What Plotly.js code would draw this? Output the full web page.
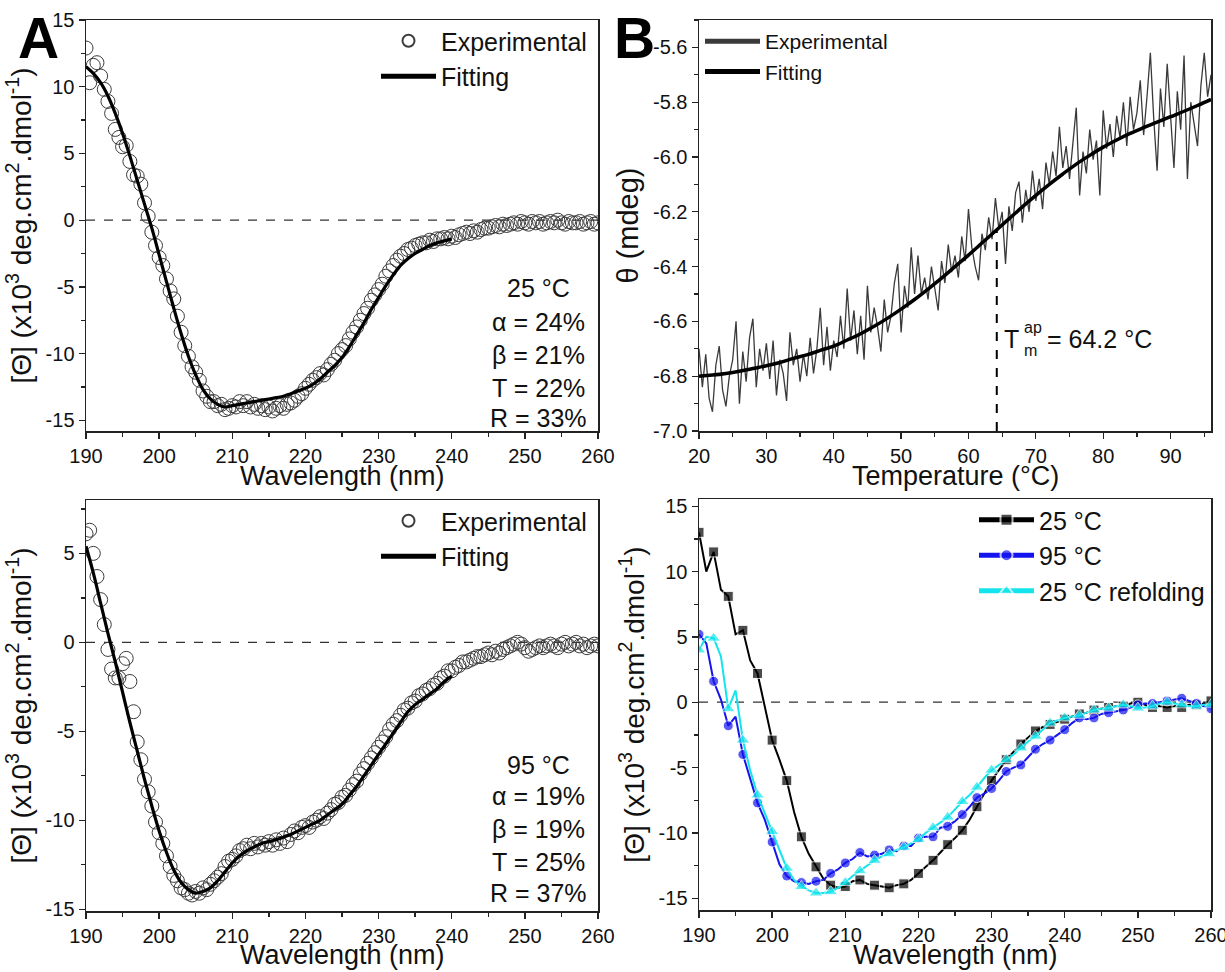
<!DOCTYPE html>
<html><head><meta charset="utf-8">
<script src="https://cdn.plot.ly/plotly-3.0.1.min.js"></script>
<style>body{margin:0;background:#fff;} #chart{width:1225px;height:972px;}</style>
</head><body><div id="chart"></div>
<script>
// ---------- Panel A (top): 25 °C far-UV CD ----------
var expStartA = 190, expStepA = 0.5;
var exp25 = [12.9,10.3,11.6,11.8,10.8,9.8,8.9,8.0,6.8,6.2,5.5,5.6,4.4,3.4,3.3,2.7,1.3,0.3,-0.9,-1.9,
 -2.8,-3.4,-4.4,-5.3,-5.9,-7.2,-8.4,-9.4,-10.2,-11.0,-11.4,-12.0,-12.8,-13.2,-13.6,-13.6,-13.9,-13.8,-14.2,-14.1,
 -13.9,-14.0,-13.6,-13.9,-13.6,-14.0,-13.8,-14.1,-13.9,-14.2,-14.0,-14.3,-14.1,-13.9,-14.1,-13.8,-13.7,-13.5,-13.2,-13.0,
 -12.6,-12.3,-12.0,-11.8,-11.5,-11.6,-11.2,-10.8,-10.5,-10.0,-9.7,-9.4,-8.9,-8.4,-8.0,-7.5,-7.0,-6.6,-6.0,-5.6,
 -5.2,-4.8,-4.2,-3.8,-3.4,-3.0,-2.7,-2.5,-2.2,-2.1,-1.9,-1.8,-1.7,-1.7,-1.5,-1.6,-1.4,-1.4,-1.3,-1.4,
 -1.2,-1.3,-1.1,-1.0,-0.9,-1.0,-0.8,-0.9,-0.7,-0.6,-0.6,-0.5,-0.4,-0.5,-0.3,-0.4,-0.3,-0.2,-0.3,-0.1,
 -0.2,-0.3,-0.1,-0.2,-0.1,-0.3,-0.2,-0.1,-0.2,0.0,-0.2,-0.3,-0.1,-0.2,-0.2,-0.1,-0.3,-0.2,-0.1,-0.3,-0.2];
var fitWlA = [190,191,192,193,194,195,196,197,198,199,200,201,202,203,204,205,206,207,208,209,210,211,212,213,214,215,216,217,218,219,220,221,222,223,224,225,226,227,228,229,230,231,232,233,234,235,236,237,238,239,240];
var fit25 = [11.5,11.0,10.3,9.3,8.0,6.5,4.8,3.0,1.2,-0.6,-2.6,-4.6,-6.6,-8.5,-10.2,-11.6,-12.7,-13.4,-13.8,-14.0,
 -13.9,-13.8,-13.7,-13.6,-13.5,-13.4,-13.3,-13.2,-13.0,-12.8,-12.6,-12.3,-11.9,-11.4,-10.9,-10.3,-9.5,-8.6,-7.7,-6.7,
 -5.8,-4.9,-4.1,-3.4,-2.9,-2.5,-2.2,-1.9,-1.7,-1.55,-1.4];
var textA25 = ["25 °C","α = 24%","β = 21%","T = 22%","R = 33%"];
var textY25 = [-5.1,-7.65,-10.1,-12.6,-14.85];

// ---------- Panel A (bottom): 95 °C far-UV CD ----------
var exp95 = [6.1,6.3,5.0,3.7,2.4,1.0,-0.4,-1.5,-2.0,-2.0,-1.2,-0.9,-2.2,-3.9,-5.6,-6.6,-7.7,-8.4,-9.2,-10.1,
 -10.7,-11.3,-12.0,-12.6,-13.1,-13.4,-13.8,-13.9,-14.1,-14.2,-14.0,-14.1,-13.8,-13.9,-13.6,-13.4,-13.2,-13.0,-12.6,-12.3,
 -12.2,-12.0,-11.7,-11.6,-11.4,-11.6,-11.3,-11.5,-11.3,-11.4,-11.2,-11.4,-11.1,-11.3,-11.0,-11.2,-10.8,-10.6,-10.7,-10.4,
 -10.3,-10.4,-10.1,-10.0,-9.8,-9.9,-9.6,-9.4,-9.1,-9.0,-8.7,-8.6,-8.3,-8.0,-7.8,-7.4,-7.1,-6.8,-6.5,-6.2,
 -5.9,-5.6,-5.3,-4.9,-4.6,-4.4,-4.1,-3.8,-3.7,-3.4,-3.3,-3.0,-2.9,-2.7,-2.6,-2.4,-2.3,-2.0,-1.9,-1.6,
 -1.6,-1.4,-1.3,-1.1,-1.1,-1.0,-0.9,-0.8,-0.8,-0.7,-0.6,-0.7,-0.5,-0.6,-0.4,-0.3,-0.2,-0.1,0.0,-0.1,
 -0.3,-0.5,-0.4,-0.3,-0.2,-0.3,-0.2,-0.1,-0.2,-0.3,-0.1,0.0,-0.2,-0.1,0.0,-0.2,-0.1,-0.3,-0.2,-0.1,-0.2];
var fit95 = [5.4,3.9,2.2,0.5,-1.1,-2.8,-4.5,-6.1,-7.7,-9.2,-10.6,-11.8,-12.8,-13.5,-13.9,-14.1,-14.0,-13.8,-13.4,-12.9,
 -12.4,-12.0,-11.7,-11.5,-11.3,-11.2,-11.1,-10.95,-10.8,-10.6,-10.4,-10.2,-10.0,-9.7,-9.4,-9.1,-8.6,-8.1,-7.5,-6.9,
 -6.3,-5.7,-5.1,-4.5,-3.9,-3.5,-3.2,-2.9,-2.6,-2.2,-1.9];
var textA95 = ["95 °C","α = 19%","β = 19%","T = 25%","R = 37%"];
var textY95 = [-6.9,-8.65,-10.5,-12.36,-14.1];

// ---------- Panel B (top): thermal denaturation ----------
var tempStart = 20, tempStep = 0.5;
var thetaExp = [-6.70,-6.84,-6.72,-6.88,-6.93,-6.76,-6.69,-6.85,-6.91,-6.80,
 -6.74,-6.60,-6.90,-6.71,-6.82,-6.66,-6.59,-6.84,-6.70,-6.78,
 -6.68,-6.81,-6.67,-6.87,-6.74,-6.79,-6.89,-6.64,-6.76,-6.70,
 -6.82,-6.72,-6.80,-6.66,-6.79,-6.70,-6.55,-6.76,-6.62,-6.78,
 -6.67,-6.73,-6.58,-6.70,-6.48,-6.67,-6.56,-6.72,-6.58,-6.74,
 -6.47,-6.64,-6.55,-6.62,-6.71,-6.52,-6.64,-6.58,-6.46,-6.39,
 -6.64,-6.47,-6.55,-6.33,-6.50,-6.36,-6.50,-6.44,-6.52,-6.40,
 -6.48,-6.56,-6.38,-6.46,-6.32,-6.42,-6.36,-6.44,-6.29,-6.38,
 -6.19,-6.33,-6.40,-6.45,-6.28,-6.34,-6.22,-6.30,-6.15,-6.26,
 -6.20,-6.39,-6.18,-6.27,-6.13,-6.09,-6.24,-6.12,-6.20,-6.05,
 -6.16,-6.08,-6.19,-6.02,-6.10,-5.98,-6.07,-5.89,-6.04,-5.96,
 -6.08,-5.96,-5.82,-6.14,-5.98,-6.06,-5.90,-6.01,-5.94,-6.14,
 -5.83,-5.97,-5.88,-6.00,-5.85,-5.93,-5.80,-5.96,-5.78,-5.90,
 -5.84,-5.72,-5.92,-5.78,-5.62,-5.86,-6.05,-5.75,-5.89,-5.66,
 -5.84,-6.04,-5.76,-5.90,-5.63,-6.08,-5.80,-5.88,-5.96,-5.74,
 -5.62,-5.78,-5.70];
var fitTemp = [20,22,24,26,28,30,32,34,36,38,40,42,44,46,48,50,52,54,56,58,60,62,64,66,68,70,72,74,76,78,80,82,84,86,88,90,92,94,96];
var thetaFit = [-6.800,-6.796,-6.790,-6.782,-6.772,-6.762,-6.750,-6.735,-6.722,-6.706,-6.690,-6.668,-6.645,-6.618,-6.588,-6.555,-6.520,-6.482,-6.442,-6.400,
 -6.358,-6.314,-6.270,-6.226,-6.182,-6.140,-6.100,-6.062,-6.026,-5.994,-5.964,-5.938,-5.914,-5.893,-5.873,-5.853,-5.833,-5.812,-5.790];
var Tm = 64.2, thetaAtTm = -6.27;

// ---------- Panel B (bottom): comparison ----------
var cd25 = [13.0,10.0,11.5,8.6,8.1,5.2,5.5,3.2,2.2,-0.3,-2.9,-4.4,-6.0,-8.4,-10.3,-11.6,-12.6,-13.5,-14.0,-14.2,
 -14.1,-13.7,-13.6,-13.9,-14.0,-14.1,-14.2,-14.0,-13.9,-13.6,-13.1,-12.6,-12.1,-11.5,-10.9,-10.4,-9.8,-9.0,-8.0,-7.0,
 -6.0,-5.2,-4.4,-3.8,-3.2,-2.7,-2.2,-1.9,-1.7,-1.5,-1.3,-1.1,-0.9,-0.8,-0.6,-0.5,-0.4,-0.3,-0.3,-0.1,
 0.0,-0.2,-0.4,-0.3,-0.4,-0.3,-0.4,-0.2,-0.2,-0.1,0.1];
var cd95 = [5.2,4.5,1.6,0.2,-1.8,-1.1,-4.0,-5.8,-7.7,-9.0,-10.7,-12.4,-13.3,-13.7,-13.8,-13.9,-13.7,-13.6,-13.1,-12.8,
 -12.3,-12.0,-11.5,-11.8,-11.7,-11.6,-11.3,-11.4,-11.0,-11.0,-10.4,-10.3,-10.3,-9.6,-9.5,-9.1,-8.6,-8.0,-7.3,-7.0,
 -6.6,-6.0,-5.3,-5.0,-4.8,-4.2,-3.6,-3.2,-2.9,-2.5,-2.1,-1.6,-1.2,-1.3,-1.2,-0.9,-0.8,-0.7,-0.6,-0.4,
 -0.2,-0.1,-0.1,0.0,0.1,0.2,0.3,0.1,-0.1,-0.3,-0.5];
var cd25r = [4.0,5.0,4.9,3.5,-0.5,0.9,-2.9,-5.2,-7.1,-8.5,-9.9,-11.4,-12.7,-13.6,-14.1,-14.4,-14.6,-14.6,-14.5,-14.2,
 -13.8,-13.3,-12.9,-12.5,-12.1,-11.8,-11.6,-11.3,-11.1,-10.8,-10.5,-10.0,-9.6,-9.2,-8.8,-8.2,-7.6,-7.1,-6.5,-5.8,
 -5.2,-4.8,-4.4,-4.0,-3.5,-3.0,-2.6,-2.1,-1.6,-1.4,-1.2,-1.1,-1.0,-0.8,-0.6,-0.5,-0.45,-0.3,-0.2,-0.3,
 -0.45,-0.4,-0.3,-0.1,0.0,-0.1,-0.2,-0.3,-0.3,-0.2,-0.2];
var seriesNames = ["25 °C","95 °C","25 °C refolding"];
var seriesColors = ["#000000","#1414EE","#14E4EC"];
var seriesSymbols = ["square","circle","triangle-up"];

// ---------- build ----------
var wlB = cd25.map(function(_, i){ return 190 + i; });
var wlExp = exp25.map(function(_, i){ return expStartA + expStepA*i; });
var tempExp = thetaExp.map(function(_, i){ return tempStart + tempStep*i; });
var FONT = "Arial, 'Liberation Sans', sans-serif";

var traces = [];
function expTrace(x, y, xa, ya, lg){
  return {x:x, y:y, xaxis:xa, yaxis:ya, type:'scatter', mode:'markers', name:'Experimental', legend:lg, legendgroup:lg+'e',
    marker:{symbol:'circle-open', size:14, color:'#3c3c3c', line:{width:1}}};
}
function fitTrace(x, y, xa, ya, lg){
  return {x:x, y:y, xaxis:xa, yaxis:ya, type:'scatter', mode:'lines', name:'Fitting', legend:lg, legendgroup:lg+'f',
    line:{color:'#000', width:3.2, shape:'spline'}};
}
traces.push(expTrace(wlExp, exp25, 'x', 'y', 'legend'));
traces.push(fitTrace(fitWlA, fit25, 'x', 'y', 'legend'));
traces.push({x:tempExp, y:thetaExp, xaxis:'x2', yaxis:'y2', type:'scatter', mode:'lines', name:'Experimental', legend:'legend2', legendgroup:'b1',
  line:{color:'#3a3a3a', width:1.3}});
traces.push({x:fitTemp, y:thetaFit, xaxis:'x2', yaxis:'y2', type:'scatter', mode:'lines', name:'Fitting', legend:'legend2', legendgroup:'b2',
  line:{color:'#000', width:3.5, shape:'spline'}});
traces.push(expTrace(wlExp, exp95, 'x3', 'y3', 'legend3'));
traces.push(fitTrace(fitWlA, fit95, 'x3', 'y3', 'legend3'));
[cd25, cd95, cd25r].forEach(function(s, k){
  var sizes = s.map(function(_, i){ return i % 2 === 0 ? (k===2 ? 12 : 10) : 0; });
  traces.push({x:wlB, y:s, xaxis:'x4', yaxis:'y4', type:'scatter', mode:'lines+markers', name:seriesNames[k],
    legend:'legend4', legendgroup:'c'+k,
    line:{color:seriesColors[k], width:2}, marker:{symbol:seriesSymbols[k], size:sizes, color:seriesColors[k]}});
});

function ticks(lo, hi, step, dec){
  var v = [], t = [];
  for (var x = lo; x <= hi + 1e-9; x += step){ var r = Math.round(x*1000)/1000; v.push(r); t.push(r.toFixed(dec)); }
  return {v:v, t:t};
}
var TICKFONT = {size:20, color:'#111', family:FONT};
function axisX(dom, rng, anchor){
  var tk = ticks(rng[0], rng[1], 10, 0);
  var mn = ticks(rng[0]+5, rng[1], 10, 0);
  return {domain:dom, range:rng, anchor:anchor, tickmode:'array', tickvals:tk.v, ticktext:tk.t,
    ticks:'outside', ticklen:6, tickwidth:1.3, tickcolor:'#222', ticklabeloverflow:'allow',
    minor:{tickmode:'array', tickvals:mn.v, ticks:'outside', ticklen:4, tickwidth:1.3, tickcolor:'#222', showgrid:false},
    showline:true, linecolor:'#222', linewidth:1.5, mirror:true, showgrid:false, zeroline:false,
    tickfont:TICKFONT};
}
function axisY(dom, rng, anchor, major, minor, dec, tlo, thi, title, tsize, standoff){
  var tk = ticks(tlo, thi, major, dec);
  var mn = ticks(tlo - major, thi + major, minor, 2).v.filter(function(v){ return v>=rng[0] && v<=rng[1]; });
  return {domain:dom, range:rng, anchor:anchor, tickmode:'array', tickvals:tk.v, ticktext:tk.t,
    ticks:'outside', ticklen:6, tickwidth:1.3, tickcolor:'#222',
    minor:{tickmode:'array', tickvals:mn, ticks:'outside', ticklen:4, tickwidth:1.3, tickcolor:'#222', showgrid:false},
    showline:true, linecolor:'#222', linewidth:1.5, mirror:true, showgrid:false, zeroline:false,
    tickfont:TICKFONT,
    title:{text:title, font:{size:tsize, color:'#111', family:FONT}, standoff:standoff}};
}
var cdTitle = '[Θ] (x10<sup>3</sup> deg.cm<sup>2</sup>.dmol<sup>-1</sup>)';
var xL = [86/1225, 598/1225], xR = [699/1225, 1211/1225];
var yT = [1-431/972, 1-20/972], yB = [1-911/972, 1-500/972], yBR = [1-910/972, 1-499/972];

var annotations = [];
function addBlock(lines, ys, xa, ya){
  lines.forEach(function(t, i){
    annotations.push({text:t, x:251.9, y:ys[i], xref:xa, yref:ya, showarrow:false, xanchor:'center', yanchor:'middle',
      font:{size:25, color:'#111', family:FONT}});
  });
}
addBlock(textA25, textY25, 'x', 'y');
addBlock(textA95, textY95, 'x3', 'y3');
// x-axis titles
var xTitles = [["Wavelength (nm)", 342, 476], ["Temperature (°C)", 955, 476], ["Wavelength (nm)", 342, 955], ["Wavelength (nm)", 955, 955]];
xTitles.forEach(function(t){
  annotations.push({text:t[0], x:t[1]/1225, y:1-t[2]/972, xref:'paper', yref:'paper', showarrow:false, xanchor:'center', yanchor:'middle',
    font:{size:27, color:'#111', family:FONT}});
});
annotations.push({text:'<b>A</b>', x:16/1225, y:1-4/972, xref:'paper', yref:'paper', xanchor:'left', yanchor:'top', showarrow:false, font:{size:57, color:'#000', family:FONT}});
annotations.push({text:'<b>B</b>', x:612/1225, y:1-4/972, xref:'paper', yref:'paper', xanchor:'left', yanchor:'top', showarrow:false, font:{size:57, color:'#000', family:FONT}});
annotations.push({text:'T', x:65.0, y:-6.665, xref:'x2', yref:'y2', xanchor:'left', yanchor:'middle', showarrow:false, font:{size:25, color:'#111', family:FONT}});
annotations.push({text:'ap', x:68.0, y:-6.622, xref:'x2', yref:'y2', xanchor:'left', yanchor:'middle', showarrow:false, font:{size:16, color:'#111', family:FONT}});
annotations.push({text:'m', x:68.0, y:-6.705, xref:'x2', yref:'y2', xanchor:'left', yanchor:'middle', showarrow:false, font:{size:16, color:'#111', family:FONT}});
annotations.push({text:'= 64.2 °C', x:71.3, y:-6.665, xref:'x2', yref:'y2', xanchor:'left', yanchor:'middle', showarrow:false, font:{size:25, color:'#111', family:FONT}});

var dashZero = {color:'#333', width:1.3, dash:'dash'};
var shapes = [
  {type:'line', xref:'x domain', yref:'y', x0:0, x1:1, y0:0, y1:0, line:dashZero, layer:'below'},
  {type:'line', xref:'x3 domain', yref:'y3', x0:0, x1:1, y0:0, y1:0, line:dashZero, layer:'below'},
  {type:'line', xref:'x4 domain', yref:'y4', x0:0, x1:1, y0:0, y1:0, line:dashZero, layer:'below'},
  {type:'line', xref:'x2', yref:'y2', x0:Tm, x1:Tm, y0:-7.0, y1:thetaAtTm, line:{color:'#000', width:2, dash:'dash'}}
];

function leg(x, y, size, gap){
  return {x:x, y:y, xanchor:'left', yanchor:'top', bgcolor:'rgba(0,0,0,0)', borderwidth:0, itemwidth:55,
    traceorder:'grouped', tracegroupgap:gap, font:{size:size, color:'#111', family:FONT}, itemsizing:'constant'};
}

var layout = {
  width:1225, height:972, margin:{l:0, r:0, t:0, b:0}, paper_bgcolor:'#fff', plot_bgcolor:'#fff',
  font:{family:FONT, color:'#111'},
  xaxis: axisX(xL, [190,260], 'y'),
  yaxis: axisY(yT, [-15.8,15], 'x', 5, 2.5, 0, -15, 15, cdTitle, 28, 6),
  xaxis2: axisX(xR, [20,96], 'y2'),
  yaxis2: axisY(yT, [-7.0,-5.5], 'x2', 0.2, 0.1, 1, -7.0, -5.6, 'θ (mdeg)', 29, 6),
  xaxis3: axisX(xL, [190,260], 'y3'),
  yaxis3: axisY(yB, [-15.1,8], 'x3', 5, 2.5, 0, -15, 5, cdTitle, 28, 6),
  xaxis4: axisX(xR, [190,260], 'y4'),
  yaxis4: axisY(yBR, [-15.9,15.55], 'x4', 5, 2.5, 0, -15, 15, cdTitle, 28, 6),
  legend: leg(376/1225, 1-18/972, 25, 0),
  legend2: leg(700/1225, 1-21/972, 21, 0),
  legend3: leg(376/1225, 1-498/972, 25, 0),
  legend4: leg(974/1225, 1-497/972, 25, 0),
  annotations: annotations, shapes: shapes, showlegend:true
};
Plotly.newPlot('chart', traces, layout, {displayModeBar:false, staticPlot:true});
</script></body></html>
